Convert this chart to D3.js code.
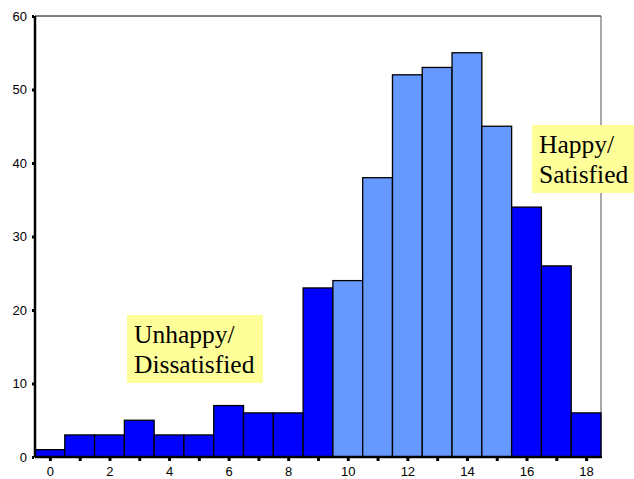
<!DOCTYPE html>
<html>
<head>
<meta charset="utf-8">
<script src="https://cdn.jsdelivr.net/npm/d3@7"></script>
<style>
  body { margin: 0; background: #fff; }
</style>
</head>
<body>
<div id="chart"></div>
<script>
// histogram counts, one per score 0..18
const scores = [0, 1, 2, 3, 4, 5, 6, 7, 8, 9, 10, 11, 12, 13, 14, 15, 16, 17, 18];
const counts = [1, 3, 3, 5, 3, 3, 7, 6, 6, 23, 24, 38, 52, 53, 55, 45, 34, 26, 6];
const middleScores = [10, 11, 12, 13, 14, 15];
const xTickLabels = [0, 2, 4, 6, 8, 10, 12, 14, 16, 18];
const yTickLabels = [0, 10, 20, 30, 40, 50, 60];

const width = 634;
const height = 479;
const plotLeft = 35, plotRight = 601, plotTop = 16, plotBottom = 457;

const x = d3.scaleLinear().domain([-0.5, 18.5]).range([plotLeft, plotRight]);
const y = d3.scaleLinear().domain([0, 60]).range([plotBottom, plotTop]);

const svg = d3.select('#chart')
    .append('svg')
    .attr('width', width)
    .attr('height', height);

// frame: top and right thin lines
svg.append('line')
    .attr('x1', plotLeft).attr('x2', plotRight)
    .attr('y1', plotTop).attr('y2', plotTop)
    .attr('stroke', '#000').attr('stroke-width', 1);
svg.append('line')
    .attr('x1', plotRight).attr('x2', plotRight)
    .attr('y1', plotTop).attr('y2', plotBottom)
    .attr('stroke', '#555').attr('stroke-width', 1);

svg.selectAll('rect.bar')
    .data(scores)
    .enter()
    .append('rect')
    .attr('class', 'bar')
    .attr('x', d => x(d - 0.5))
    .attr('width', d => x(d + 0.5) - x(d - 0.5))
    .attr('y', (d, i) => y(counts[i]))
    .attr('height', (d, i) => y(0) - y(counts[i]))
    .attr('fill', d => middleScores.includes(d) ? '#6699FF' : '#0000FF')
    .attr('stroke', '#000')
    .attr('stroke-width', 1.3);

// y axis
const yAxis = svg.append('g')
    .attr('transform', `translate(${plotLeft},0)`)
    .call(d3.axisLeft(y).tickValues(yTickLabels).tickSize(3).tickPadding(5));
yAxis.select('.domain').attr('stroke-width', 2.5).attr('d', `M0,${plotTop}V${plotBottom}`);
yAxis.selectAll('.tick line').attr('stroke-width', 3).attr('x1', -1);
yAxis.selectAll('text')
    .attr('font-family', 'Liberation Sans, Arial, sans-serif')
    .attr('font-size', 13)
    .attr('fill', '#000');

// x axis: small tick at every score, label every 2
const xAxis = svg.append('g')
    .attr('transform', `translate(0,${plotBottom})`)
    .call(d3.axisBottom(x).tickValues(scores).tickSize(4).tickPadding(6)
        .tickFormat(d => xTickLabels.includes(d) ? d : ''));
xAxis.select('.domain').attr('stroke-width', 2.5).attr('d', `M${plotLeft},0H${plotRight + 1}`);
xAxis.selectAll('.tick line').attr('stroke-width', 3).attr('y1', 1);
xAxis.selectAll('text')
    .attr('font-family', 'Liberation Sans, Arial, sans-serif')
    .attr('font-size', 13)
    .attr('fill', '#000');

// annotation boxes
const notes = [
    { lines: ['Unhappy/', 'Dissatisfied'], x0: 127, y0: 315, w: 136, h: 68 },
    { lines: ['Happy/', 'Satisfied'], x0: 532, y0: 125, w: 102, h: 68 }
];
notes.forEach(n => {
    svg.append('rect')
        .attr('x', n.x0).attr('y', n.y0)
        .attr('width', n.w).attr('height', n.h)
        .attr('fill', '#FFFF99');
    n.lines.forEach((t, i) => {
        svg.append('text')
            .attr('x', n.x0 + 7)
            .attr('y', n.y0 + 28 + i * 30)
            .attr('font-family', 'Liberation Serif, Times New Roman, serif')
            .attr('font-size', 25.5)
            .attr('fill', '#000')
            .text(t);
    });
});
</script>
</body>
</html>
